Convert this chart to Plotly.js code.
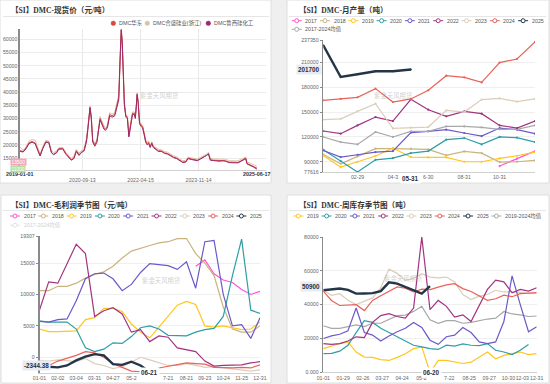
<!DOCTYPE html>
<html><head><meta charset="utf-8">
<script src="https://cdn.plot.ly/plotly-3.0.1.min.js"></script>
<style>html,body{margin:0;padding:0;background:#efefef;}#c{width:550px;height:384px;}</style>
</head><body><div id="c"></div>
<script>
// ---------- Panel 1: spot price ----------
const p1Dates = ['2019-01-01','2019-02-01','2019-03-01','2019-04-01','2019-05-01','2019-06-01','2019-07-01','2019-07-20','2019-08-15','2019-09-15','2019-10-15','2019-11-10','2019-12-01','2020-01-01','2020-01-20','2020-03-01','2020-04-01','2020-05-01','2020-05-25','2020-06-20','2020-07-15','2020-08-10','2020-09-01','2020-10-01','2020-10-25','2020-11-10','2020-11-28','2020-12-10','2020-12-25','2021-01-15','2021-02-05','2021-03-08','2021-03-25','2021-04-15','2021-05-01','2021-05-20','2021-06-12','2021-07-05','2021-08-01','2021-08-25','2021-09-10','2021-09-22','2021-09-30','2021-10-05','2021-10-15','2021-10-25','2021-11-05','2021-11-20','2021-12-05','2021-12-20','2022-01-08','2022-01-25','2022-02-12','2022-02-22','2022-03-03','2022-03-12','2022-03-22','2022-04-05','2022-04-20','2022-05-05','2022-05-20','2022-06-05','2022-06-20','2022-07-05','2022-07-20','2022-08-05','2022-08-20','2022-09-10','2022-10-10','2022-11-10','2022-12-10','2023-01-10','2023-02-10','2023-03-10','2023-04-10','2023-05-10','2023-06-10','2023-07-10','2023-08-01','2023-09-01','2023-10-01','2023-11-01','2023-12-01','2024-01-05','2024-02-01','2024-02-20','2024-03-10','2024-04-10','2024-05-10','2024-06-10','2024-07-10','2024-08-10','2024-09-10','2024-10-10','2024-11-10','2024-12-10','2025-01-10','2025-02-10','2025-02-25','2025-03-10','2025-04-10','2025-05-10','2025-06-17'];
const p1Luxi = [17600,17300,18500,20500,21000,20500,17500,15800,18500,21000,20800,17000,16300,17000,18300,18500,16500,15000,14200,14800,17500,16000,17000,17800,21500,27000,34000,30000,21000,19500,21000,29500,28000,26000,25500,26500,31000,30500,31000,35000,37000,52000,62000,63500,58000,45000,35000,30500,30000,23000,28000,31500,31500,30000,34000,39000,36000,28000,27000,26500,24000,21000,20000,20500,19000,20500,19000,18500,17500,17500,16800,16500,15800,15200,14800,14000,13300,13500,14800,14500,14300,14000,14600,15300,15800,16500,14200,14000,14000,13800,14000,13800,13300,13300,13200,13200,13800,14500,14800,12800,12300,11700,10800];
const p1Huadong = [17800,17500,18800,20800,21300,20700,17800,16000,18700,21200,21000,17200,16500,17200,18500,18700,16800,15300,14400,15000,17800,16300,17200,18000,22000,27500,34500,31000,21500,20000,21500,30000,28500,26500,26000,27000,31500,31000,31500,35500,38000,50000,61000,64000,59000,46000,35500,31000,30500,23500,28500,32000,32000,30500,34500,39500,36500,28500,27500,27000,24500,21500,20500,21000,19300,20800,19300,18800,17800,17700,17000,16700,16000,15400,15000,14200,13500,13700,15000,14700,14500,14200,14800,15500,16000,16800,14400,14200,14200,14000,14200,14000,13500,13500,13400,13400,14000,14700,15000,13000,12500,11900,11200];
const p1Hesheng = [19200,17900,19200,21500,22000,21800,18600,16600,19300,21800,21500,17800,17100,17700,18900,19100,17200,15900,15000,15600,18300,16900,17800,18600,22800,28200,33500,31500,22200,20500,22000,30800,29200,27200,26700,27600,32200,31600,32200,36500,39000,48000,60000,62500,60000,48000,37000,31500,31000,24500,29000,32500,32500,31000,35000,38500,37000,29000,28000,27500,25000,22000,21000,21500,19800,21200,19800,19200,18300,18200,17500,17200,16500,15900,15500,14700,14000,14200,15400,15100,15000,14700,15200,15900,16500,17200,14900,14700,14700,14500,14700,14600,14000,14100,14000,14000,14500,15200,15400,13600,13200,12600,12000];
const p1Names = ['DMC华东','DMC合盛硅业(浙江)','DMC鲁西硅化工'];
const p1Colors = ['#e0443c','#d8c4a8','#9a2b6c'];
const p1YTicks = [15000,20000,25000,30000,35000,40000,45000,50000,55000,60000];
const p1XTicks = ['2020-09-13','2022-04-15','2023-11-14'];

// ---------- Panel 2: monthly output ----------
const p2Dates = ['2024-01-01','2024-01-31','2024-02-29','2024-03-31','2024-04-30','2024-05-31','2024-06-30','2024-07-31','2024-08-31','2024-09-30','2024-10-31','2024-11-30','2024-12-31'];
const p2y2017 = [null,null,null,null,null,null,null,null,null,null,84800,93800,102900];
const p2y2018 = [98900,87600,96500,105800,105800,105800,105000,97700,102500,100500,89600,90000,91600];
const p2y2019 = [97700,83500,90000,96900,106600,95700,95300,95300,90000,90000,94000,97300,101700];
const p2y2020 = [104600,90800,77616,92400,94400,100500,102900,116700,118700,111000,120000,119100,113800];
const p2y2021 = [103700,95700,98500,101700,102900,125200,126800,128800,124800,121100,130800,128800,124000];
const p2y2022 = [127200,124000,134000,144100,139300,165600,153000,145000,151000,148200,134000,130800,139300];
const p2y2023 = [141000,142000,151000,160300,130400,131200,132000,152200,150200,165200,166800,162700,166000];
const p2y2024 = [164350,166000,168000,178500,162300,166000,176500,194200,192200,186000,210000,214400,235000];
const p2y2025 = [231000,192600,195900,199500,199500,201700];
const p2Avg   = [120000,113800,111000,126000,120000,126800,126800,132800,132800,131600,129200,129200,134000];
const p2YTicks = [77616,90000,120000,150000,180000,210000,237350];
const p2XTicks = ['2024-02-29','2024-04-30','2024-06-30','2024-08-31','2024-10-31'];
const p2XText  = ['02-29','04-3','6-30','08-31','10-31'];

// ---------- Panel 3: gross profit seasonal ----------
const p3y2017 = [null,null,null,null,null,null,null,null,null,null,null,null,null,null,null,null,null,14500,15500,13300,12300,11900,10800,10000,10500];
const p3y2018 = [10600,10600,11300,11300,11800,12600,13200,13600,14500,15800,16900,17400,17800,18200,18400,18900,18900,16500,15000,13000,8000,4500,4000,4000,5000];
const p3y2019 = [4500,4100,4100,4100,4200,6000,6300,7800,7800,7300,5300,4000,3100,4800,6500,8300,8900,8400,5000,4800,5000,4700,4400,4500,5600];
const p3y2020 = [5800,5600,5600,5600,4500,1500,900,1300,2300,2200,3300,4700,5000,4500,3500,3500,3400,4000,4400,4600,6500,13000,18800,7500,7000];
const p3y2021 = [5700,5600,6000,6100,9000,12500,13300,13400,12500,10600,11600,13500,14900,14800,14600,14000,15200,11000,18400,18600,10000,5000,5200,3000,6300];
const p3y2022 = [7500,12000,11800,15000,18000,16500,6500,7400,7900,6900,4000,4400,2500,3400,3200,1500,1200,900,-600,-1400,-1300,-1300,-1200,-900,-700];
const p3y2023 = [-500,-600,-400,-500,-700,-200,-1000,-1300,-1800,-1500,-700,0,-400,-900,-1300,-1300,-1000,-1300,-1600,-1500,-1700,-1900,-2000,-2200,-2000];
const p3y2024 = [-1800,-1300,-600,-200,300,900,700,0,-1000,-1600,-2200,-2300,-2100,-1700,-1400,-1200,-900,-1000,-1100,-1600,-1700,-1700,-1600,-1700,-1200];
const p3y2025 = [-1200,-1500,-1600,-1300,-500,100,500,300,-1100,-1200,-700,-1300,-2344.38];
const p3XTickPos = [0,2,4,6,8,10,12,14,16,18,20,22,24];
const p3XText = ['01-01','02-02','03-04','03-31','04-27','05-2','','7-21','08-21','09-23','10-24','11-25','12-31'];
const p3YTicks = [0,5000,10000,15000,19307];

// ---------- Panel 4: weekly inventory seasonal ----------
const p4y2019 = [14000,15500,17000,18000,12000,9000,8800,7500,7000,8800,11000,14000,15000,0,7000,7000,6000,5200,6000,9000,12000,8000,10000,11000,12000,10500,11000];
const p4y2020 = [11000,11200,12500,16000,23500,30500,29500,26000,23500,21000,18500,16000,15000,14000,13500,16000,15500,16800,16000,15800,17000,13000,12000,10500,13000,16500,null];
const p4y2021 = [20000,21500,22500,24500,38000,23500,22000,18500,21500,24000,26000,29500,26500,19000,16500,21000,22000,26500,23500,18000,17000,18000,30000,57000,40000,24000,27000];
const p4y2022 = [17000,16500,17000,18500,21000,20500,29500,33500,34700,33000,32000,38000,80000,37000,42500,39000,32700,34000,30000,40000,49000,54500,53500,47000,49000,48000,50000];
const p4y2023 = [48500,45500,46500,42600,40000,42000,44000,50000,61000,58500,54400,55600,58300,56300,55800,56300,53400,46000,43000,45000,46000,48500,47500,47500,47300,46500,46800];
const p4y2024 = [47900,42500,39500,39800,40000,36500,42500,45300,48000,50500,49700,47500,49200,48900,50400,51700,52400,49500,47800,45200,42600,43500,45600,44700,46500,46800,47100];
const p4y2025 = [48500,48800,49500,48700,46500,46600,46800,48000,53200,52400,50500,48500,46500,50900];
const p4Avg   = [27500,26000,26000,27000,28000,27000,29000,29000,31500,33500,33800,36000,39000,31000,29000,30500,30500,29000,29500,30500,31500,32000,36000,34500,34000,33000,33300];
const p4XTickPos = [0,2.43,4.82,7.17,9.6,11.95,15.35,17.78,20.21,22.56,24.25,26];
const p4XText = ['01-01','01-29','02-26','03-27','04-24','05-2','7-22','08-25','09-27','10-30','12-03','12-31'];
const p4YTicks = [0,20000,40000,60000,80000];
const p4YText = ['0.000','20000','40000','60000','80000'];

const yearColors = {'2017':'#ff55d2','2018':'#c9b47e','2019':'#ffc61e','2020':'#2e9ea4','2021':'#6c58c8','2022':'#a1337f','2023':'#dccdba','2024':'#e8625a','2025':'#233547','avg':'#a8a8a8'};

// ---------- helpers (layout only) ----------
const W = 550, H = 384;
const px = x => x / W;
const py = y => 1 - y / H;
const idx = arr => arr.map((_, i) => i);
const TICKF = {family:'Liberation Sans, Arial, sans-serif', size:5.2, color:'#666'};
const TXTF = 'Liberation Sans, Noto Sans CJK SC, sans-serif';
const TITLEF = {family:'Liberation Serif, Noto Sans CJK SC, serif', size:7.6, color:'#333', weight:'bold'};

const traces = [];
[p1Hesheng, p1Huadong, p1Luxi].forEach((arr, k) => {
  const ci = [1,0,2][k];
  traces.push({type:'scatter', mode:'lines', x:p1Dates, y:arr, xaxis:'x', yaxis:'y',
    line:{color:p1Colors[ci], width:1}, showlegend:false, hoverinfo:'skip'});
});
const p2Series = [['2017',p2y2017],['2018',p2y2018],['2019',p2y2019],['2020',p2y2020],['2021',p2y2021],['avg',p2Avg],['2022',p2y2022],['2023',p2y2023],['2024',p2y2024],['2025',p2y2025]];
p2Series.forEach(([n, arr]) => {
  const thick = n === '2025';
  traces.push({type:'scatter', mode:'lines+markers', x:p2Dates.slice(0, arr.length), y:arr, xaxis:'x2', yaxis:'y2',
    line:{color:yearColors[n], width: thick ? 2.4 : 1.2}, marker:{size: thick ? 2 : 2.2, color:yearColors[n]},
    showlegend:false, hoverinfo:'skip'});
});
const p3Series = [['2023',p3y2023],['2024',p3y2024],['2017',p3y2017],['2018',p3y2018],['2019',p3y2019],['2020',p3y2020],['2021',p3y2021],['2022',p3y2022],['2025',p3y2025]];
p3Series.forEach(([n, arr]) => {
  const thick = n === '2025';
  traces.push({type:'scatter', mode:'lines', x:idx(arr), y:arr, xaxis:'x3', yaxis:'y3',
    line:{color:yearColors[n], width: thick ? 2.4 : 1.2}, showlegend:false, hoverinfo:'skip'});
});
const p4Series = [['avg',p4Avg],['2023',p4y2023],['2019',p4y2019],['2020',p4y2020],['2021',p4y2021],['2022',p4y2022],['2024',p4y2024],['2025',p4y2025]];
p4Series.forEach(([n, arr]) => {
  const thick = n === '2025';
  traces.push({type:'scatter', mode:'lines', x:idx(arr), y:arr, xaxis:'x4', yaxis:'y4',
    line:{color:yearColors[n], width: thick ? 2.4 : 1.2}, showlegend:false, hoverinfo:'skip'});
});

const shapes = [];
const ann = [];
const cards = [[0,0,271,183],[287,0,549,183],[1,195,271,383],[287,195,549,383]];
cards.forEach(c => shapes.push({type:'rect', xref:'paper', yref:'paper', layer:'below',
  x0:px(c[0]), x1:px(c[2]), y0:py(c[3]), y1:py(c[1]), fillcolor:'#ffffff', line:{color:'#dedede', width:1}}));
[[3,269,16.5],[289,546,16.5],[3,269,210.5],[289,546,210.5]].forEach(s => shapes.push({type:'line', xref:'paper', yref:'paper',
  x0:px(s[0]), x1:px(s[1]), y0:py(s[2]), y1:py(s[2]), line:{color:'#e6e6e6', width:1}}));
[['【SI】DMC-现货价（元/吨）',9,9.5],['【SI】DMC-月产量（吨）',297,9.5],['【SI】DMC-毛利润季节图（元/吨）',9,204.5],['【SI】DMC-周库存季节图（吨）',297,204.5]]
 .forEach(t => ann.push({xref:'paper', yref:'paper', x:px(t[1]), y:py(t[2]), xanchor:'left', yanchor:'middle', showarrow:false, text:t[0], font:TITLEF}));
[[138,89],[415,89],[140,287],[425,285]].forEach(w => ann.push({xref:'paper', yref:'paper', x:px(w[0]), y:py(w[1]), showarrow:false,
  text:'紫金天风期货', font:{family:TXTF, size:6.4, color:'rgba(150,150,150,0.45)'}}));

const p1LegX = [113.3, 147.3, 208.3];
p1Names.forEach((n, k) => {
  const cx = p1LegX[k], cy = 23.3, r = 2.3;
  shapes.push({type:'circle', xref:'paper', yref:'paper', x0:px(cx-r), x1:px(cx+r), y0:py(cy+r), y1:py(cy-r), fillcolor:p1Colors[k], line:{color:p1Colors[k], width:0.5}});
  ann.push({xref:'paper', yref:'paper', x:px(cx+3.5), y:py(cy), xanchor:'left', yanchor:'middle', showarrow:false, text:n, font:{family:TXTF, size:5.4, color:'#555'}});
});
function lineLegend(names, keys, x0, step, y, faded) {
  names.forEach((n, k) => {
    const cx = x0 + step * k, col = faded && faded[k] ? '#e2e2e2' : yearColors[keys[k]];
    shapes.push({type:'line', xref:'paper', yref:'paper', x0:px(cx-5), x1:px(cx+5), y0:py(y), y1:py(y), line:{color:col, width:1}});
    shapes.push({type:'circle', xref:'paper', yref:'paper', x0:px(cx-2), x1:px(cx+2), y0:py(y+2), y1:py(y-2), fillcolor:'#ffffff', line:{color:col, width:1}});
    ann.push({xref:'paper', yref:'paper', x:px(cx+6.5), y:py(y), xanchor:'left', yanchor:'middle', showarrow:false, text:n,
      font:{family:TXTF, size:5.3, color: faded && faded[k] ? '#d0d0d0' : '#555'}});
  });
}
const yrs9 = ['2017','2018','2019','2020','2021','2022','2023','2024','2025'];
lineLegend(yrs9, yrs9, 296.7, 28.3, 20.7);
lineLegend(['2017-2024均值'], ['avg'], 296.7, 28.3, 29.3);
lineLegend(yrs9, yrs9, 15, 28.3, 216);
lineLegend(['2017-2024均值'], ['avg'], 15, 28.3, 225.3, [true]);
const yrs7 = ['2019','2020','2021','2022','2023','2024','2025','2019-2024均值'];
lineLegend(yrs7, ['2019','2020','2021','2022','2023','2024','2025','avg'], 298.3, 28.3, 216);

const BOLDF = {family:'Liberation Sans, Arial, sans-serif', size:6.3, color:'#1f3042', weight:'bold'};
ann.push({xref:'x', yref:'paper', x:p1Dates[0], y:py(174.5), showarrow:false, text:'2019-01-01', font:{...BOLDF, size:5.4, color:'#333'}});
ann.push({xref:'x', yref:'paper', x:p1Dates[p1Dates.length-1], y:py(174.5), showarrow:false, text:'2025-06-17', font:{...BOLDF, size:5.4, color:'#333'}});
ann.push({xref:'paper', yref:'paper', x:px(9.5), y:py(162.3), showarrow:false, text:'13500', bgcolor:'#f3a6ba', borderpad:0.5, font:{family:TXTF, size:4.8, color:'#fff'}});
ann.push({xref:'paper', yref:'paper', x:px(9.5), y:py(169), showarrow:false, text:'11000', bgcolor:'#b6dea0', borderpad:0.5, font:{family:TXTF, size:4.8, color:'#fff'}});
ann.push({xref:'x2', yref:'paper', x:p2Dates[5], y:py(178), showarrow:false, text:'05-31', bgcolor:'#ffffff', borderpad:1, font:BOLDF});
ann.push({xref:'paper', yref:'y2', x:px(309), y:p2y2025[p2y2025.length-1], showarrow:false, text:String(p2y2025[p2y2025.length-1]), bgcolor:'#e7ecf1', borderpad:1, font:BOLDF});
ann.push({xref:'x3', yref:'paper', x:p3y2025.length-1, y:py(378), showarrow:false, text:'06-21', bgcolor:'#ffffff', borderpad:1, font:BOLDF});
ann.push({xref:'paper', yref:'paper', x:px(22), y:py(370.5), showarrow:false, text:String(p3y2025[p3y2025.length-1]), bgcolor:'#e7ecf1', borderpad:1, font:BOLDF});
ann.push({xref:'x4', yref:'paper', x:13.16, y:py(378), showarrow:false, text:'06-20', bgcolor:'#ffffff', borderpad:1, font:BOLDF});
ann.push({xref:'paper', yref:'y4', x:px(311), y:p4y2025[p4y2025.length-1], showarrow:false, text:String(p4y2025[p4y2025.length-1]), bgcolor:'#e7ecf1', borderpad:1, font:BOLDF});

const baseX = {showgrid:false, zeroline:false, showline:true, linecolor:'#d0d0d0', linewidth:1, tickfont:TICKF, ticks:'', tickangle:0, fixedrange:true};
const baseY = {zeroline:false, showline:true, linecolor:'#8a8a8a', linewidth:1.2, tickfont:TICKF, ticks:'outside', ticklen:2.5, tickcolor:'#8a8a8a', showgrid:true, gridcolor:'#efefef', fixedrange:true};
const str = a => a.map(v => String(v));

const layout = {
  width:W, height:H, margin:{l:0,r:0,t:0,b:0,pad:0},
  paper_bgcolor:'#efefef', plot_bgcolor:'rgba(0,0,0,0)', showlegend:false,
  font:{family:TXTF},
  xaxis: {...baseX, type:'date', domain:[px(20),px(266)], anchor:'y', range:['2019-01-01','2025-09-15'],
          tickmode:'array', tickvals:p1XTicks, ticktext:p1XTicks, showgrid:true, gridcolor:'#e8e8e8', ticklabelstandoff:5},
  yaxis: {...baseY, domain:[py(170),py(29.3)], anchor:'x', range:[10500,63800], tickmode:'array', tickvals:p1YTicks, ticktext:str(p1YTicks),
          ticks:'', linewidth:1.6, linecolor:'#8a8a8a', gridcolor:'#ececec'},
  xaxis2: {...baseX, type:'date', domain:[px(323.3),px(535)], anchor:'y2', range:['2024-01-01','2024-12-31'],
          tickmode:'array', tickvals:p2XTicks, ticktext:p2XText},
  yaxis2: {...baseY, domain:[py(172),py(40)], anchor:'x2', range:[77616,237350], tickmode:'array', tickvals:p2YTicks, ticktext:str(p2YTicks)},
  xaxis3: {...baseX, domain:[px(39.5),px(260)], anchor:'y3', range:[0,24], tickmode:'array', tickvals:p3XTickPos, ticktext:p3XText},
  yaxis3: {...baseY, domain:[py(373),py(236)], anchor:'x3', range:[-2500,19307], tickmode:'array', tickvals:p3YTicks, ticktext:str(p3YTicks)},
  xaxis4: {...baseX, domain:[px(323.3),px(536.7)], anchor:'y4', range:[0,26], tickmode:'array', tickvals:p4XTickPos, ticktext:p4XText},
  yaxis4: {...baseY, domain:[py(372.3),py(237)], anchor:'x4', range:[0,80000], tickmode:'array', tickvals:p4YTicks, ticktext:p4YText},
  shapes:shapes, annotations:ann
};
Plotly.newPlot('c', traces, layout, {staticPlot:true, displayModeBar:false});
</script></body></html>
